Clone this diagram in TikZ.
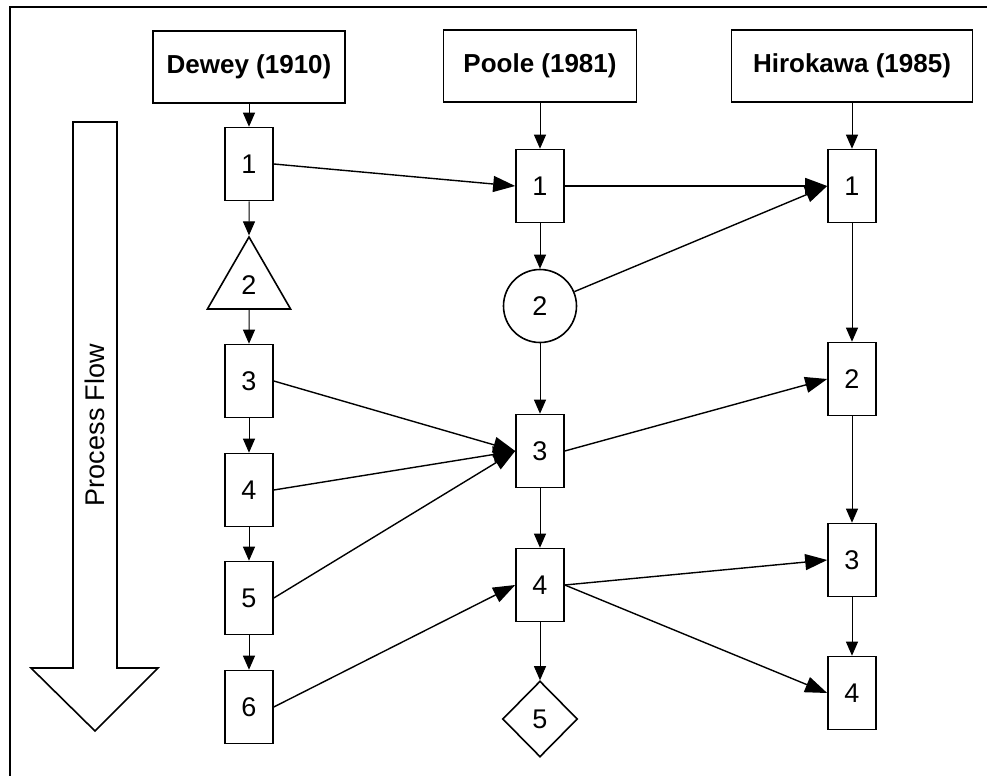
\documentclass[tikz,border=0pt]{standalone}
\usepackage{fontspec}
\setmainfont{Liberation Sans}
\usetikzlibrary{arrows.meta,shapes.geometric}
\tikzset{
  stage/.style={draw,line width=0.8pt,minimum width=24pt,minimum height=36.5pt,inner sep=0pt},
  header/.style={draw,line width=0.8pt,minimum height=36pt,inner sep=0pt,font=\fontsize{13}{15}\selectfont\bfseries},
  tri/.style={draw,line width=0.8pt,regular polygon,regular polygon sides=3,minimum size=48pt,inner sep=0pt},
  ring/.style={draw,line width=0.8pt,circle,minimum size=36.5pt,inner sep=0pt},
  gem/.style={draw,line width=0.8pt,diamond,minimum width=37.5pt,minimum height=38pt,inner sep=0pt},
  flow/.style={-{Triangle[length=7pt,width=6pt]},line width=0.5pt},
  link/.style={-{Triangle[length=11pt,width=8pt]},line width=0.7pt},
}
\begin{document}
\begin{tikzpicture}[x=0.5pt,y=-0.5pt,font=\fontsize{13.5}{16}\selectfont]
  \useasboundingbox (0,0) rectangle (987,776);
  \draw[line width=0.8pt] (10,776) -- (10,7) -- (987,7);
  % process flow arrow
  \draw[line width=0.8pt] (73,122) -- (117,122) -- (117,668) -- (158,668)
    -- (95,731) -- (31,668) -- (73,668) -- cycle;
  \node[rotate=90] (flow) at (95,425) {Process Flow};
  % headers
  \draw
    (249,67) node[header,minimum width=96pt] (dewey){Dewey (1910)}
    (540,66) node[header,minimum width=96.5pt] (poole){Poole (1981)}
    (852,66) node[header,minimum width=120.5pt] (hirokawa){Hirokawa (1985)};
  % Dewey
  \draw
    (249,164) node[stage] (d1){1}
    (249,285) node[tri] (d2){2}
    (249,381) node[stage] (d3){3}
    (249,490) node[stage] (d4){4}
    (249,598) node[stage] (d5){5}
    (249,707) node[stage] (d6){6};
  % Poole
  \draw
    (540,186) node[stage] (p1){1}
    (540,306) node[ring] (p2){2}
    (540,451) node[stage] (p3){3}
    (540,585) node[stage] (p4){4}
    (540,719) node[gem] (p5){5};
  % Hirokawa
  \draw
    (852,186) node[stage] (h1){1}
    (852,379) node[stage] (h2){2}
    (852,560) node[stage] (h3){3}
    (852,693) node[stage] (h4){4};
  \begin{scope}[flow]
    \draw (dewey) to (d1);
    \draw (d1) to (d2);
    \draw (d2.south) to (d3);
    \draw (d3) to (d4);
    \draw (d4) to (d5);
    \draw (d5) to (d6);
    \draw (poole) to (p1);
    \draw (p1) to (p2);
    \draw (p2) to (p3);
    \draw (p3) to (p4);
    \draw (p4) to (p5);
    \draw (hirokawa) to (h1);
    \draw (h1) to (h2);
    \draw (h2) to (h3);
    \draw (h3) to (h4);
  \end{scope}
  \begin{scope}[link]
    \draw (d1.east) to (p1.west);
    \draw (p1.east) to (h1.west);
    \draw (p2) to (h1.west);
    \draw (d3.east) to (p3.west);
    \draw (d4.east) to (p3.west);
    \draw (d5.east) to (p3.west);
    \draw (p3.east) to (h2.west);
    \draw (d6.east) to (p4.west);
    \draw (p4.east) to (h3.west);
    \draw (p4.east) to (h4.west);
  \end{scope}
\end{tikzpicture}
\end{document}
